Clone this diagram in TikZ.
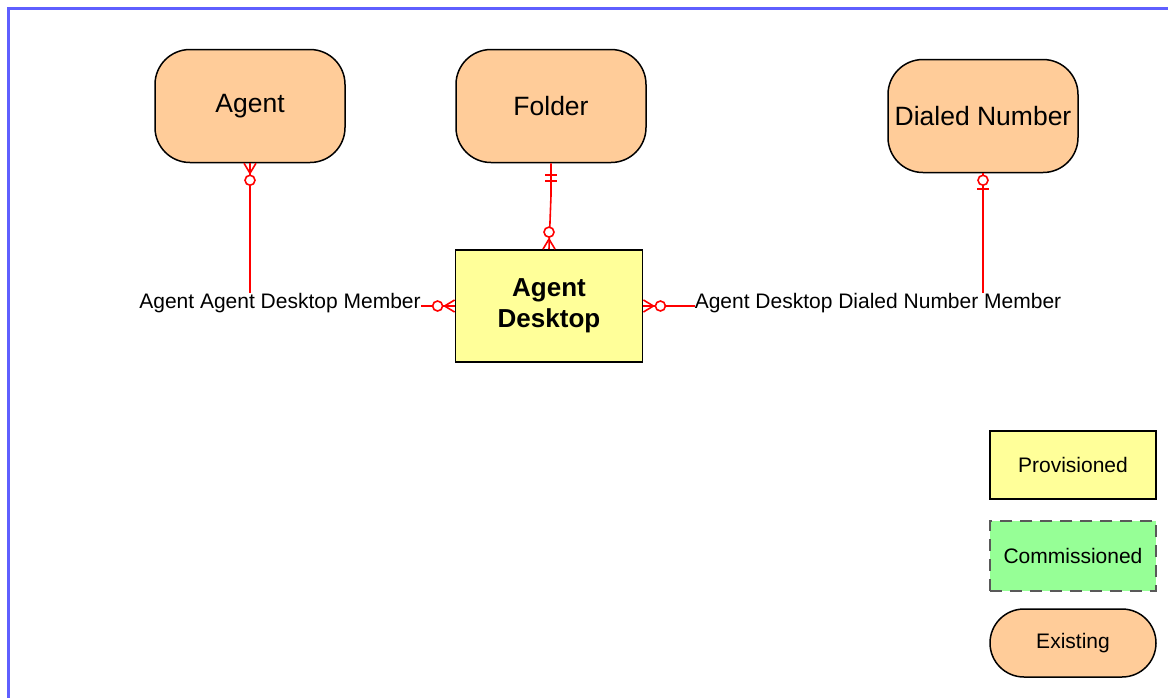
\documentclass[tikz,border=0pt]{standalone}
\usepackage{fontspec}
\setmainfont{Liberation Sans}
\usetikzlibrary{positioning}
\definecolor{existfill}{RGB}{255,204,153}
\definecolor{provfill}{RGB}{255,255,153}
\definecolor{commfill}{RGB}{150,255,150}
\definecolor{frameblue}{RGB}{95,95,255}
\definecolor{relred}{RGB}{255,0,0}
\tikzset{existing/.style={draw=black, line width=1.5pt, fill=existfill, rounded corners=35pt, minimum width=190pt, minimum height=113pt, inner sep=2pt, font=\fontsize{26.5}{30}\selectfont},
	provisioned/.style={draw=black, line width=1.8pt, fill=provfill, minimum width=187pt, minimum height=112pt, align=center, font=\fontsize{26}{31}\selectfont\bfseries},
	legbox/.style={draw=black, line width=1.8pt, minimum width=166pt, minimum height=68pt, font=\fontsize{21}{24}\selectfont},
	relline/.style={draw=relred, line width=1.6pt},
	rellabel/.style={inner sep=0pt, font=\fontsize{21}{24}\selectfont},
	manyzero/.pic={\draw[relline] (-6,0) -- (0,10) -- (6,0);
		\draw[relline, fill=white] (0,17) circle (5pt);},
	onlyone/.pic={\draw[relline] (-6,12) -- (6,12);
		\draw[relline] (-6,18) -- (6,18);},
	zeroone/.pic={\draw[relline, fill=white] (0,7) circle (5pt);
		\draw[relline] (-6,16) -- (6,16);}}

\begin{document}
\begin{tikzpicture}[x=1pt,y=-1pt]
	\useasboundingbox (0,0) rectangle (1168,697);
	\fill[white] (0,0) rectangle (1168,697);
	\draw[frameblue, line width=3pt] (8,8) rectangle (1185,715);
	% entities
	\node[existing] (agent) at (250,106) {Agent};
	\node[existing] (folder) at (551,106) {Folder};
	\node[existing] (dialed) at (983,116) {Dialed Number};
	\node[provisioned] (desk) at (549,306) {Agent\\Desktop};
	% relationship labels
	\node[rellabel] (lblagent) at (280,303) {Agent Agent Desktop Member};
	\node[rellabel] (lbldialed) at (878,303) {Agent Desktop Dialed Number Member};
	% connectors
	\draw[relline] (agent.south) -- (lblagent.north -| agent.south);
	\draw[relline] (lblagent.east |- desk.west) -- (desk.west);
	\draw[relline] (folder.south) -- ([yshift=-32]folder.south) -- (desk.north);
	\draw[relline] (dialed.south) -- (lbldialed.north -| dialed.south);
	\draw[relline] (lbldialed.west |- desk.east) -- (desk.east);
	\pic at (agent.south) {manyzero};
	\pic[rotate=-90] at (desk.west) {manyzero};
	\pic[rotate=90] at (desk.east) {manyzero};
	\pic[rotate=180] at (desk.north) {manyzero};
	\pic at (folder.south) {onlyone};
	\pic at (dialed.south) {zeroone};
	% legend
	\node[legbox, fill=provfill] (legprov) at (1073,465) {Provisioned};
	\node[legbox, fill=commfill, draw=black!65, dashed, dash pattern=on 12pt off 8pt, minimum height=70pt] (legcomm) at (1073,556) {Commissioned};
	\node[legbox, fill=existfill, rounded corners=34pt, line width=1.5pt] (legexist) at (1073,643) {Existing};
\end{tikzpicture}
\end{document}
